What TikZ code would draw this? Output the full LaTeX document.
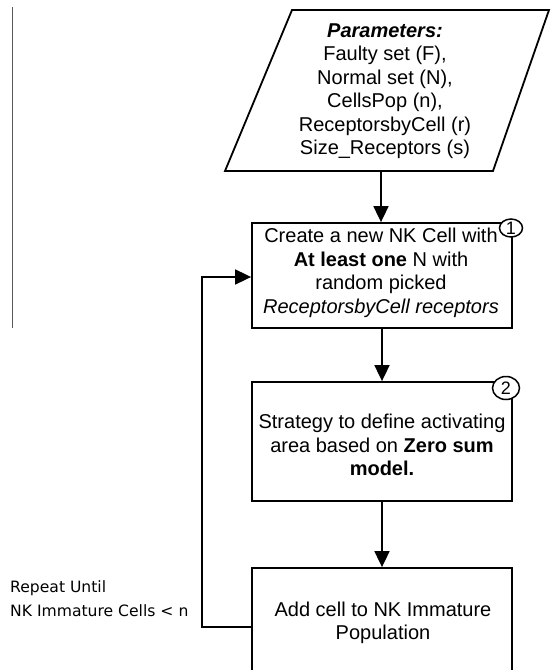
\documentclass[tikz,border=0pt]{standalone}
\usepackage{fontspec}
\setmainfont{Liberation Sans}
\newfontfamily\lblfont{DejaVu Sans}
\usetikzlibrary{arrows.meta,shapes.geometric}
\tikzset{
  boxnode/.style={draw, line width=1.8pt, minimum width=260pt, inner sep=0pt},
  txt/.style={align=center, inner sep=0pt, font=\fontsize{20}{23.5}\selectfont},
  arr/.style={line width=1.8pt, -{Triangle[width=15pt,length=16pt]}},
  numc/.style={draw, ellipse, line width=1.5pt, fill=white, inner sep=0pt, font=\fontsize{18}{18}\selectfont},
}
\begin{document}
\begin{tikzpicture}[x=1pt,y=-1pt]
\useasboundingbox (0,0) rectangle (551,670);
\clip (0,0) rectangle (551,670);
% thin gray rule at left
\draw[line width=1pt, black!65] (12,7) -- (12,328);
% parallelogram
\draw[line width=1.8pt, line join=miter] (225,171) -- (292,10) -- (549,10) -- (493,171) -- cycle;
\node[txt] (par) at (385,91) {\textbf{\textit{Parameters:}}\\
 Faulty set (F),\\
 Normal set (N),\\
 CellsPop (n),\hspace{8pt}\\
 ReceptorsbyCell (r)\\
 Size\_Receptors (s)};
\coordinate (parb) at (381,171);
% box 1
\node[boxnode, minimum height=105pt] (b1) at (382,275.5) {};
\node[txt] (t1) at (381,273) {Create a new NK Cell with\\
 \textbf{At least one} N with\\
 random picked\\
 \textit{ReceptorsbyCell receptors}};
\node[numc, minimum width=23pt, minimum height=18pt] (c1) at (511,228) {1};
% box 2
\node[boxnode, minimum height=119pt] (b2) at (382,441.5) {};
\node[txt] (t2) at (382,445) {Strategy to define activating\\
 area based on \textbf{Zero sum}\\
 \textbf{model.}};
\node[numc, minimum width=27pt, minimum height=23pt] (c2) at (506,388) {2};
% box 3
\node[boxnode, minimum height=140pt] (b3) at (382,638) {};
\node[txt] (t3) at (383,623) {Add cell to NK Immature\\ Population};
% repeat label
\node[anchor=west, align=left, inner sep=0pt, font=\lblfont\fontsize{15.6}{24}\selectfont] (rep) at (10,599) {Repeat Until\\ NK Immature Cells < n};
% connectors
\draw[arr] (parb) -- (parb |- b1.north);
\draw[arr] (b1.south) -- (b2.north);
\draw[arr] (b2.south) -- (b3.north);
\coordinate (loopy) at (0,627);
\coordinate (loopx) at (202,0);
\coordinate (entry) at (0,277);
\draw[arr, line join=miter] (b3.west |- loopy) -- (loopx |- loopy) -- (loopx |- entry) -- (b1.west |- entry);
\end{tikzpicture}
\end{document}
